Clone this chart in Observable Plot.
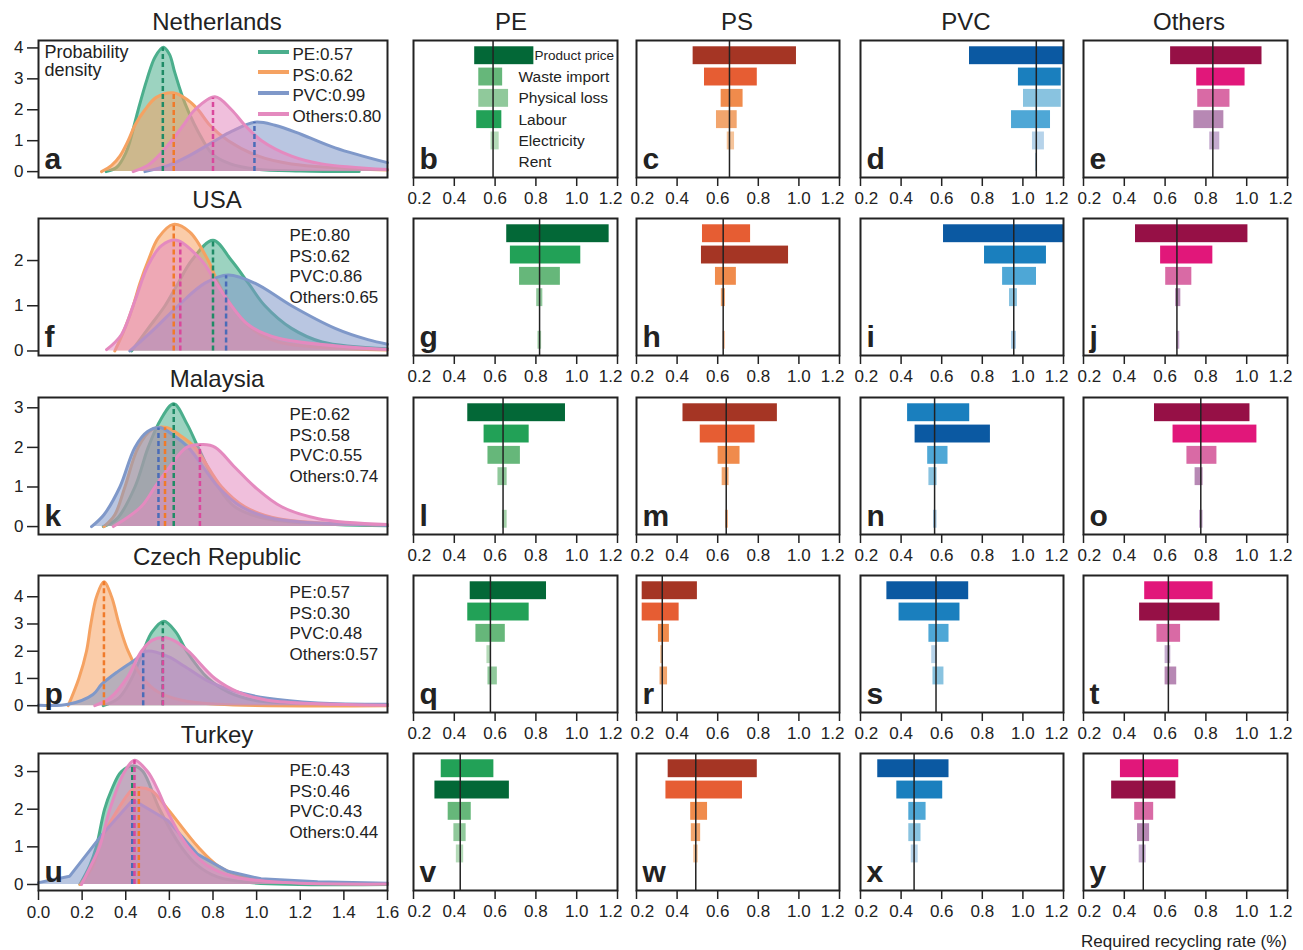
<!DOCTYPE html>
<html><head><meta charset="utf-8">
<script src="https://cdn.jsdelivr.net/npm/d3@7"></script>
<script src="https://cdn.jsdelivr.net/npm/@observablehq/plot@0.6"></script>
<style>
body{margin:0;background:#fff;}
#root{position:relative;width:1303px;height:950px;font-family:"Liberation Sans",Arial,sans-serif;color:#222;overflow:hidden;background:#fff}
.abs{position:absolute;white-space:nowrap;line-height:1}
.abs svg{max-width:none !important}
</style></head><body><div id="root"></div>
<script>
// ---------- data ----------
const countries = ["Netherlands", "USA", "Malaysia", "Czech Republic", "Turkey"];
const plastics = ["PE", "PS", "PVC", "Others"];
const factors = ["Product price", "Waste import", "Physical loss", "Labour", "Electricity", "Rent"];
const letters = "abcdefghijklmnopqrstuvwxy".split("");

// median required recycling rate per country [PE, PS, PVC, Others]
const medNL = [0.57, 0.62, 0.99, 0.80];
const medUSA = [0.80, 0.62, 0.86, 0.65];
const medMY = [0.62, 0.58, 0.55, 0.74];
const medCZ = [0.57, 0.30, 0.48, 0.57];
const medTR = [0.43, 0.46, 0.43, 0.44];

// probability density curves [x, density] per country, order PE, PS, PVC, Others
const densNL = [
  [[0.31,0],[0.36,0.15],[0.40,0.6],[0.42,1.0],[0.457,2.0],[0.498,3.0],[0.534,3.7],[0.572,4.02],[0.60,3.8],[0.625,3.2],[0.672,2.2],[0.755,1.0],[0.80,0.55],[0.88,0.25],[1.0,0.08],[1.2,0.02],[1.47,0]],
  [[0.289,0],[0.335,0.2],[0.373,0.5],[0.411,1.0],[0.442,1.5],[0.488,2.0],[0.54,2.4],[0.618,2.55],[0.687,2.3],[0.732,2.0],[0.786,1.5],[0.87,1.0],[1.008,0.5],[1.16,0.25],[1.6,0.05]],
  [[0.488,0],[0.595,0.2],[0.687,0.5],[0.809,1.0],[0.885,1.3],[0.992,1.6],[1.084,1.5],[1.206,1.2],[1.36,0.77],[1.6,0.29]],
  [[0.434,0],[0.50,0.2],[0.549,0.5],[0.61,1.0],[0.664,1.5],[0.717,2.0],[0.809,2.42],[0.885,2.0],[0.946,1.5],[1.023,1.0],[1.16,0.5],[1.298,0.25],[1.6,0.07]]
];
const densUSA = [
  [[0.427,0],[0.503,0.5],[0.58,1.0],[0.64,1.5],[0.702,2.0],[0.80,2.45],[0.885,2.0],[0.962,1.5],[1.038,1.0],[1.16,0.5],[1.3,0.2],[1.6,0.05]],
  [[0.35,0],[0.396,0.5],[0.434,1.0],[0.465,1.5],[0.503,2.0],[0.549,2.5],[0.618,2.8],[0.694,2.63],[0.778,2.0],[0.824,1.5],[0.885,1.0],[0.977,0.5],[1.1,0.2],[1.6,0.02]],
  [[0.419,0],[0.534,0.5],[0.64,1.0],[0.763,1.5],[0.87,1.68],[0.992,1.5],[1.16,1.0],[1.36,0.5],[1.51,0.25],[1.6,0.15]],
  [[0.312,0.03],[0.38,0.36],[0.441,1.1],[0.503,1.9],[0.564,2.33],[0.633,2.45],[0.748,2.0],[0.809,1.55],[0.87,1.1],[0.962,0.58],[1.1,0.28],[1.6,0.03]]
];
const densMY = [
  [[0.297,0],[0.36,0.2],[0.442,1.0],[0.503,2.0],[0.56,2.7],[0.62,3.1],[0.68,2.6],[0.732,2.0],[0.824,1.0],[0.9,0.5],[1.04,0.2],[1.36,0.05],[1.6,0.02]],
  [[0.30,0],[0.35,0.3],[0.396,1.0],[0.457,2.0],[0.52,2.45],[0.587,2.5],[0.65,2.3],[0.717,2.0],[0.84,1.0],[0.946,0.5],[1.1,0.2],[1.6,0.03]],
  [[0.243,0],[0.30,0.3],[0.373,1.0],[0.442,2.0],[0.50,2.4],[0.557,2.5],[0.62,2.3],[0.687,2.0],[0.824,1.0],[0.93,0.5],[1.08,0.2],[1.6,0.03]],
  [[0.343,0],[0.47,0.5],[0.534,1.0],[0.60,1.5],[0.679,2.0],[0.755,2.07],[0.81,2.0],[0.9,1.5],[0.992,1.0],[1.115,0.5],[1.283,0.2],[1.6,0.05]]
];
const densCZ = [
  [[0.297,0],[0.37,0.3],[0.427,1.0],[0.48,2.0],[0.52,2.7],[0.575,3.1],[0.63,2.7],[0.679,2.0],[0.778,1.0],[0.87,0.5],[0.99,0.2],[1.3,0.04],[1.6,0.02]],
  [[0.136,0],[0.185,1.0],[0.22,2.0],[0.24,3.0],[0.266,4.0],[0.30,4.55],[0.335,4.0],[0.369,3.0],[0.411,2.0],[0.48,1.0],[0.549,0.5],[0.656,0.2],[0.82,0.05],[1.6,0]],
  [[0,0.02],[0.136,0.05],[0.25,0.41],[0.289,0.78],[0.365,1.26],[0.442,1.68],[0.495,2.0],[0.595,1.8],[0.671,1.44],[0.778,0.9],[0.9,0.53],[1.05,0.27],[1.28,0.1],[1.6,0.05]],
  [[0.258,0],[0.33,0.3],[0.404,1.0],[0.472,2.0],[0.52,2.4],[0.575,2.5],[0.63,2.35],[0.687,2.0],[0.809,1.0],[0.916,0.5],[1.05,0.2],[1.6,0.02]]
];
const densTR = [
  [[0.19,0],[0.235,0.5],[0.265,1.0],[0.303,2.0],[0.334,2.5],[0.38,3.0],[0.44,3.15],[0.479,3.0],[0.555,2.0],[0.654,1.0],[0.73,0.5],[0.82,0.2],[0.97,0.05],[1.6,0]],
  [[0.19,0],[0.25,0.5],[0.288,1.2],[0.35,1.86],[0.426,2.5],[0.456,2.57],[0.517,2.5],[0.593,2.0],[0.731,1.0],[0.822,0.5],[0.944,0.2],[1.2,0.05],[1.6,0.02]],
  [[0,0.05],[0.143,0.22],[0.288,1.3],[0.433,2.25],[0.593,1.7],[0.73,0.8],[0.868,0.35],[1.02,0.15],[1.28,0.07],[1.6,0.03]],
  [[0.197,0],[0.24,0.5],[0.28,1.0],[0.327,2.0],[0.395,3.0],[0.44,3.3],[0.50,3.0],[0.548,2.5],[0.586,2.0],[0.685,1.0],[0.776,0.5],[0.9,0.2],[1.13,0.05],[1.6,0.01]]
];
const yDomains = [[-0.19, 4.24], [-0.1, 2.93], [-0.2, 3.26], [-0.25, 4.78], [-0.16, 3.48]];
const yTicksNL = [0, 1, 2, 3, 4];
const yTicksUSA = [0, 1, 2];
const yTicksMY = [0, 1, 2, 3];
const yTicksCZ = [0, 1, 2, 3, 4];
const yTicksTR = [0, 1, 2, 3];
const densXTicks = [0, 0.2, 0.4, 0.6, 0.8, 1.0, 1.2, 1.4, 1.6];
const barXTicks = [0.2, 0.4, 0.6, 0.8, 1.0, 1.2];

// baseline required recycling rate (vertical line) [PE, PS, PVC, Others]
const baseNL = [0.59, 0.658, 1.066, 0.834];
const baseUSA = [0.818, 0.627, 0.955, 0.658];
const baseMY = [0.639, 0.642, 0.565, 0.775];
const baseCZ = [0.577, 0.327, 0.572, 0.616];
const baseTR = [0.429, 0.492, 0.464, 0.493];

// tornado rows top to bottom: [factor index, low, high]
const torNL = [
  [[0,0.50,0.79],[1,0.52,0.637],[2,0.52,0.666],[3,0.51,0.633],[4,0.58,0.62],[5,0.59,0.59]],
  [[0,0.479,0.988],[1,0.535,0.795],[2,0.617,0.725],[3,0.594,0.696],[4,0.647,0.683],[5,0.658,0.658]],
  [[0,0.737,1.2],[1,0.978,1.189],[2,1.003,1.189],[3,0.944,1.136],[4,1.047,1.106],[5,1.063,1.069]],
  [[0,0.627,1.075],[1,0.755,0.992],[2,0.760,0.918],[3,0.741,0.888],[4,0.819,0.868],[5,0.834,0.834]]
];
const torUSA = [
  [[0,0.657,1.159],[3,0.675,1.02],[1,0.72,0.92],[2,0.804,0.834],[4,0.818,0.818],[5,0.81,0.828]],
  [[1,0.525,0.762],[0,0.52,0.949],[2,0.589,0.692],[3,0.618,0.638],[4,0.627,0.627],[5,0.627,0.637]],
  [[0,0.609,1.2],[1,0.811,1.116],[3,0.90,1.067],[2,0.934,0.973],[4,0.955,0.955],[5,0.944,0.968]],
  [[0,0.455,1.006],[1,0.578,0.834],[2,0.603,0.731],[3,0.652,0.677],[4,0.658,0.658],[5,0.657,0.672]]
];
const torMY = [
  [[0,0.466,0.945],[3,0.546,0.767],[1,0.565,0.724],[2,0.614,0.659],[4,0.639,0.639],[5,0.636,0.659]],
  [[0,0.429,0.894],[1,0.514,0.784],[2,0.602,0.71],[3,0.622,0.656],[4,0.642,0.642],[5,0.639,0.653]],
  [[1,0.432,0.738],[0,0.469,0.84],[3,0.531,0.631],[2,0.537,0.577],[4,0.565,0.565],[5,0.56,0.577]],
  [[0,0.548,1.016],[1,0.639,1.05],[2,0.707,0.854],[3,0.747,0.786],[4,0.775,0.775],[5,0.769,0.786]]
];
const torCZ = [
  [[0,0.478,0.852],[3,0.466,0.767],[1,0.506,0.65],[4,0.56,0.582],[2,0.565,0.611],[5,0.577,0.577]],
  [[0,0.228,0.50],[1,0.228,0.41],[2,0.308,0.362],[4,0.319,0.333],[3,0.316,0.353],[5,0.327,0.327]],
  [[0,0.33,0.733],[1,0.39,0.69],[3,0.537,0.636],[4,0.551,0.577],[2,0.557,0.611],[5,0.572,0.572]],
  [[1,0.50,0.835],[0,0.475,0.869],[2,0.56,0.676],[4,0.60,0.628],[3,0.60,0.657],[5,0.616,0.616]]
];
const torTR = [
  [[3,0.336,0.594],[0,0.305,0.67],[1,0.37,0.483],[2,0.398,0.458],[4,0.41,0.446],[5,0.429,0.429]],
  [[0,0.356,0.795],[1,0.345,0.722],[2,0.467,0.55],[3,0.47,0.516],[4,0.482,0.504],[5,0.492,0.492]],
  [[0,0.285,0.636],[1,0.379,0.605],[3,0.438,0.523],[2,0.438,0.498],[4,0.45,0.484],[5,0.464,0.464]],
  [[1,0.381,0.667],[0,0.338,0.653],[2,0.451,0.544],[3,0.465,0.524],[4,0.473,0.507],[5,0.493,0.493]]
];

// colours
const densLine = ["#4bae8c", "#f5a262", "#7f98c9", "#e48abf"];
const densDash = ["#1f8b66", "#f07a2a", "#4a6cb8", "#d9489c"];
const palPE = ["#036837", "#66b77a", "#90c99b", "#22a157", "#b4dbb8", "#a5d3aa"];
const palPS = ["#a53524", "#e65d33", "#f08b4c", "#f2a56d", "#f6c49a", "#f4b183"];
const palPVC = ["#0b59a2", "#1a7fbe", "#89c3e0", "#4ea7d6", "#b6d3ea", "#a8cbe5"];
const palOthers = ["#961046", "#e1177a", "#d96aa5", "#b788b4", "#c5abcf", "#c9a9cf"];

// ---------- assembly ----------
const meds = [medNL, medUSA, medMY, medCZ, medTR];
const dens = [densNL, densUSA, densMY, densCZ, densTR];
const yTicks = [yTicksNL, yTicksUSA, yTicksMY, yTicksCZ, yTicksTR];
const bases = [baseNL, baseUSA, baseMY, baseCZ, baseTR];
const tors = [torNL, torUSA, torMY, torCZ, torTR];
const pals = [palPE, palPS, palPVC, palOthers];

const root = document.getElementById("root");
const colLeft = [38, 413, 636, 860, 1083];
const colW = [349, 204, 203, 203, 204];
const rowTop = [40, 218, 397, 575, 753];
const panelH = 137;
const colTitleX = [511, 737, 966, 1189];
const FONT = '"Liberation Sans", Arial, sans-serif';
const style = {background: "transparent", overflow: "visible", maxWidth: "none", fontFamily: FONT, fontSize: "17px", color: "#222"};
const M = 20;

function place(el, left, top) {
  const w = document.createElement("div");
  w.className = "abs";
  w.style.left = left + "px";
  w.style.top = top + "px";
  w.style.width = el.getAttribute("width") + "px";
  w.appendChild(el);
  root.appendChild(w);
}
function label(text, x, y, size, anchor) {
  const d = document.createElement("div");
  d.className = "abs";
  d.textContent = text;
  d.style.fontSize = size + "px";
  d.style.left = x + "px";
  d.style.top = y + "px";
  d.style.transform = anchor === "right" ? "translate(-100%,-50%)" : "translate(-50%,-50%)";
  root.appendChild(d);
}
function interp(pts, x) {
  for (let k = 0; k < pts.length - 1; k++) {
    const [x0, y0] = pts[k], [x1, y1] = pts[k + 1];
    if (x >= x0 && x <= x1) return y0 + (y1 - y0) * (x - x0) / (x1 - x0);
  }
  return 0;
}
const frame = Plot.frame({stroke: "#222", strokeWidth: 2});
const letterMark = (l) => Plot.text([l], {frameAnchor: "bottom-left", dx: 6, dy: -9, lineAnchor: "bottom", fontSize: 30, fontWeight: "bold", fill: "#222"});
const fmt = d3.format(".1f");
// bar x axis: ticks everywhere, end labels nudged inward so neighbouring panels don't collide
const barAxis = () => [
  Plot.axisX({ticks: barXTicks, tickSize: 9, strokeWidth: 1.5, text: null, label: null}),
  Plot.axisX({ticks: barXTicks.slice(1, -1), tickSize: 0, tickPadding: 14, label: null, tickFormat: fmt}),
  Plot.axisX({ticks: barXTicks.slice(0, 1), tickSize: 0, tickPadding: 14, label: null, tickFormat: fmt, textAnchor: "start", dx: -6}),
  Plot.axisX({ticks: barXTicks.slice(-1), tickSize: 0, tickPadding: 14, label: null, tickFormat: fmt, textAnchor: "end", dx: 5})
];

for (let i = 0; i < 5; i++) {
  // density panel
  const marks = [];
  dens[i].forEach((pts, j) => {
    const curve = (i === 4 && j === 2) ? "linear" : "catmull-rom";
    marks.push(Plot.areaY(pts, {x: d => d[0], y: d => d[1], fill: densLine[j], fillOpacity: 0.55, curve}));
    marks.push(Plot.lineY(pts, {x: d => d[0], y: d => d[1], stroke: densLine[j], strokeWidth: 3, curve}));
  });
  meds[i].forEach((m, j) => {
    marks.push(Plot.ruleX([m], {x: d => d, y1: 0, y2: interp(dens[i][j], m), stroke: densDash[j], strokeWidth: 2.5, strokeDasharray: "5,3"}));
  });
  marks.push(frame);
  marks.push(Plot.axisY({ticks: yTicks[i], tickSize: 11, tickPadding: 4, label: null, strokeWidth: 1.5, tickFormat: d => String(d)}));
  if (i === 4) marks.push(Plot.axisX({ticks: densXTicks, tickSize: 10, tickPadding: 5, label: null, strokeWidth: 1.5, tickFormat: fmt}));
  const legendText = plastics.map((p, j) => `${p}:${meds[i][j].toFixed(2)}`).join("\n");
  marks.push(Plot.text([legendText], {frameAnchor: "top-left", dx: i === 0 ? 254 : 251, dy: i === 0 ? 5 : 8, lineAnchor: "top", lineHeight: 1.215, fontSize: 17, fill: "#222"}));
  if (i === 0) marks.push(Plot.text(["Probability\ndensity"], {frameAnchor: "top-left", dx: 6, dy: 5, lineAnchor: "top", lineHeight: 1.0, fontSize: 18, fill: "#222"}));
  marks.push(letterMark(letters[i * 5]));
  const p = Plot.plot({
    width: colW[0] + 38 + M, height: panelH + M * 2,
    marginLeft: 38, marginRight: M, marginTop: M, marginBottom: M,
    style,
    x: {domain: [0, 1.6], axis: null},
    y: {domain: yDomains[i], axis: null},
    marks
  });
  place(p, 0, rowTop[i] - M);
  if (i === 0) {
    plastics.forEach((pl, j) => {
      const s = document.createElement("div");
      s.className = "abs";
      s.style.left = "258px"; s.style.width = "31px"; s.style.height = "4px";
      s.style.top = (rowTop[0] + 11.5 + j * 20.7 - 2) + "px";
      s.style.background = densLine[j];
      root.appendChild(s);
    });
  }
  label(countries[i], 217, rowTop[i] - 18, 24);

  // tornado panels
  for (let j = 0; j < 4; j++) {
    const rows = tors[i][j];
    const pal = pals[j];
    const bm = [
      Plot.rect(rows, {x1: d => d[1], x2: d => d[2], y1: (d, k) => k - 0.42, y2: (d, k) => k + 0.42, fill: d => pal[d[0]]}),
      Plot.ruleX([bases[i][j]], {x: d => d, stroke: "#222", strokeWidth: 1.5}),
      frame,
      ...barAxis(),
      letterMark(letters[i * 5 + j + 1])
    ];
    if (i === 0 && j === 0) {
      bm.push(Plot.text([factors[0]], {y: () => 0, frameAnchor: "left", dx: 121, fontSize: 13.5, fill: "#222", textAnchor: "start"}));
      bm.push(Plot.text(factors.slice(1), {y: (d, k) => k + 1, frameAnchor: "left", dx: 105, fontSize: 15.5, fill: "#222", textAnchor: "start"}));
    }
    const bp = Plot.plot({
      width: colW[j + 1] + M * 2, height: panelH + M * 2,
      marginLeft: M, marginRight: M, marginTop: M, marginBottom: M,
      style,
      color: {type: "identity"},
      x: {domain: [0.2, 1.2]},
      y: {domain: [5.715, -0.715], axis: null},
      marks: bm
    });
    place(bp, colLeft[j + 1] - M, rowTop[i] - M);
    if (i === 0) label(plastics[j], colTitleX[j], 22, 24);
  }
}
label("Required recycling rate (%)", 1287, 941, 17, "right");
</script></body></html>
